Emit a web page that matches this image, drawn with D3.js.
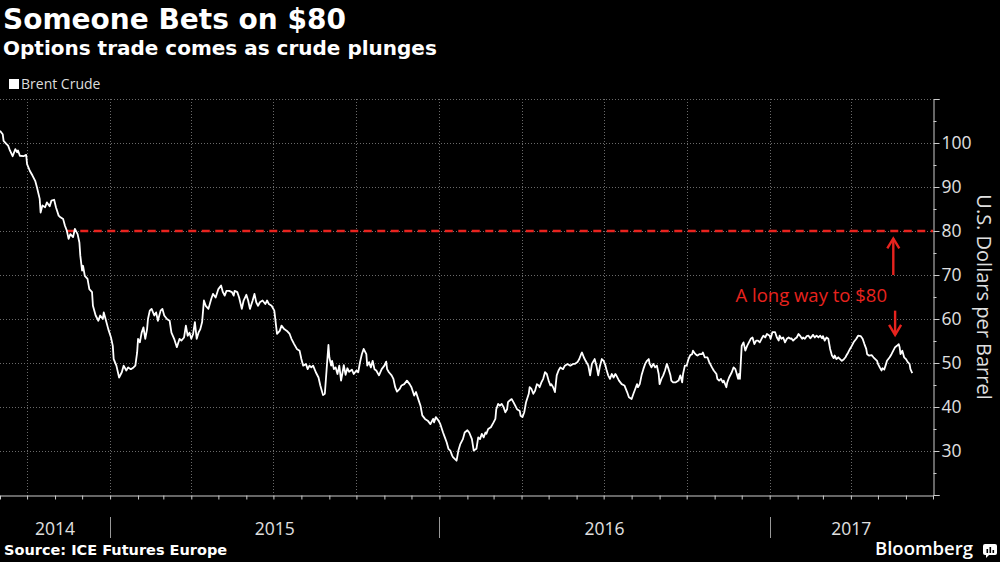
<!DOCTYPE html>
<html><head><meta charset="utf-8">
<script src="https://cdn.jsdelivr.net/npm/d3@7"></script>
<style>
html,body{margin:0;padding:0;background:#000;}
svg{display:block;}
</style></head><body>
<svg id="chart" width="1000" height="562"></svg>
<script>
// ---------- DATA ----------
const titleText = "Someone Bets on $80";
const subtitleText = "Options trade comes as crude plunges";
const legendLabel = "Brent Crude";
const sourceText = "Source: ICE Futures Europe";
const yAxisTitle = "U.S. Dollars per Barrel";
const annotationText = "A long way to $80";
const yearLabels = ["2014", "2015", "2016", "2017"];
const yTickLabels = [30, 40, 50, 60, 70, 80, 90, 100];
const xDomain = ["2014-09-01", "2017-07-01"];
const yDomain = [20, 110];
const targetPrice = 80;
const targetStart = "2014-11-14";
// annotation anchor points [date, value]
const upArrow = [["2017-05-18", 70.0], ["2017-05-18", 78.3]];
const downArrow = [["2017-05-20", 61.9], ["2017-05-20", 56.4]];
const annotationAnchor = ["2017-05-11", 63.9];

// Brent crude, U.S. dollars per barrel
const brentCrude = [
["2014-09-01",102.8],["2014-09-04",102.0],["2014-09-05",100.5],["2014-09-08",99.8],["2014-09-10",99.4],
["2014-09-12",98.3],["2014-09-15",97.0],["2014-09-18",98.6],["2014-09-20",97.9],["2014-09-21",98.3],
["2014-09-23",97.1],["2014-09-27",97.0],["2014-09-30",97.3],["2014-10-01",95.2],["2014-10-04",93.7],
["2014-10-07",92.6],["2014-10-10",91.4],["2014-10-12",89.9],["2014-10-15",87.3],["2014-10-16",84.2],
["2014-10-18",85.8],["2014-10-21",85.4],["2014-10-23",86.5],["2014-10-26",85.6],["2014-10-28",86.9],
["2014-10-31",87.1],["2014-11-02",85.4],["2014-11-05",83.5],["2014-11-07",83.1],["2014-11-10",82.7],
["2014-11-12",81.2],["2014-11-14",80.1],["2014-11-16",78.2],["2014-11-18",79.3],["2014-11-21",78.6],
["2014-11-23",80.5],["2014-11-26",79.3],["2014-11-28",77.4],["2014-11-29",74.4],["2014-12-01",71.0],
["2014-12-02",72.1],["2014-12-04",69.8],["2014-12-07",69.1],["2014-12-09",66.8],["2014-12-12",66.1],
["2014-12-13",63.0],["2014-12-16",60.8],["2014-12-19",59.6],["2014-12-21",60.8],["2014-12-24",60.0],
["2014-12-25",61.5],["2014-12-27",60.0],["2014-12-30",57.7],["2015-01-02",55.8],["2015-01-04",53.9],
["2015-01-05",50.9],["2015-01-08",49.4],["2015-01-11",46.7],["2015-01-14",47.9],["2015-01-16",49.4],
["2015-01-19",48.3],["2015-01-21",49.0],["2015-01-24",48.6],["2015-01-27",49.0],["2015-01-29",49.4],
["2015-01-31",52.4],["2015-02-01",55.5],["2015-02-03",54.7],["2015-02-05",56.9],["2015-02-07",58.1],
["2015-02-09",55.5],["2015-02-11",57.7],["2015-02-12",60.0],["2015-02-14",61.9],["2015-02-16",62.3],
["2015-02-19",60.8],["2015-02-21",61.5],["2015-02-23",59.6],["2015-02-26",61.9],["2015-02-28",62.3],
["2015-03-02",60.8],["2015-03-05",60.0],["2015-03-08",59.6],["2015-03-10",56.9],["2015-03-13",55.5],
["2015-03-16",53.6],["2015-03-19",55.5],["2015-03-21",55.1],["2015-03-24",55.8],["2015-03-26",58.5],
["2015-03-28",56.2],["2015-03-30",56.9],["2015-04-01",55.5],["2015-04-03",56.6],["2015-04-05",59.3],
["2015-04-07",55.5],["2015-04-09",56.9],["2015-04-11",57.7],["2015-04-13",59.3],["2015-04-15",64.2],
["2015-04-17",63.0],["2015-04-20",62.3],["2015-04-23",64.5],["2015-04-25",65.7],["2015-04-28",64.9],
["2015-05-01",66.8],["2015-05-04",67.6],["2015-05-06",66.1],["2015-05-08",65.3],["2015-05-10",66.4],
["2015-05-13",66.4],["2015-05-16",66.1],["2015-05-18",65.3],["2015-05-19",66.4],["2015-05-22",66.1],
["2015-05-24",64.9],["2015-05-27",62.3],["2015-05-29",64.2],["2015-06-01",65.5],["2015-06-03",64.2],
["2015-06-05",62.3],["2015-06-08",64.2],["2015-06-10",65.7],["2015-06-12",63.8],["2015-06-14",63.0],
["2015-06-16",63.8],["2015-06-19",64.2],["2015-06-22",63.4],["2015-06-24",64.2],["2015-06-26",63.4],
["2015-06-29",63.0],["2015-07-02",61.9],["2015-07-05",56.6],["2015-07-08",57.3],["2015-07-10",58.5],
["2015-07-13",57.7],["2015-07-16",57.3],["2015-07-19",56.6],["2015-07-21",55.5],["2015-07-24",54.3],
["2015-07-27",53.2],["2015-07-30",52.8],["2015-08-01",50.9],["2015-08-03",49.4],["2015-08-06",49.8],
["2015-08-08",48.6],["2015-08-10",49.4],["2015-08-12",49.0],["2015-08-14",49.4],["2015-08-17",47.9],
["2015-08-20",46.7],["2015-08-22",44.9],["2015-08-25",42.7],["2015-08-27",43.0],["2015-08-29",48.6],
["2015-08-31",54.1],["2015-09-01",51.3],["2015-09-03",49.4],["2015-09-04",50.5],["2015-09-06",48.6],
["2015-09-08",49.0],["2015-09-10",47.5],["2015-09-12",49.4],["2015-09-14",46.0],["2015-09-16",48.3],
["2015-09-17",49.5],["2015-09-19",47.3],["2015-09-21",48.8],["2015-09-23",48.0],["2015-09-26",48.5],
["2015-09-28",47.5],["2015-10-01",48.3],["2015-10-03",47.9],["2015-10-05",50.2],["2015-10-07",52.0],
["2015-10-09",53.2],["2015-10-12",52.0],["2015-10-13",49.4],["2015-10-15",50.2],["2015-10-17",49.0],
["2015-10-19",50.5],["2015-10-21",48.6],["2015-10-23",48.3],["2015-10-26",47.2],["2015-10-29",48.6],
["2015-11-01",49.4],["2015-11-03",50.3],["2015-11-04",48.6],["2015-11-06",47.9],["2015-11-09",47.2],
["2015-11-11",46.4],["2015-11-13",44.5],["2015-11-15",43.5],["2015-11-18",44.1],["2015-11-20",44.9],
["2015-11-23",45.2],["2015-11-26",46.0],["2015-11-29",45.2],["2015-12-01",44.5],["2015-12-04",42.6],
["2015-12-06",43.4],["2015-12-09",41.5],["2015-12-11",40.3],["2015-12-13",38.1],["2015-12-16",37.3],
["2015-12-19",36.9],["2015-12-22",36.1],["2015-12-25",37.3],["2015-12-26",36.5],["2015-12-28",37.7],
["2015-12-31",36.9],["2016-01-02",36.1],["2016-01-05",34.2],["2016-01-07",33.1],["2016-01-09",32.0],
["2016-01-11",30.5],["2016-01-13",30.1],["2016-01-15",29.0],["2016-01-16",28.6],["2016-01-18",28.2],
["2016-01-20",27.8],["2016-01-22",30.1],["2016-01-24",31.5],["2016-01-27",32.7],["2016-01-29",34.2],
["2016-02-01",34.7],["2016-02-03",34.2],["2016-02-06",32.7],["2016-02-08",30.1],["2016-02-11",30.5],
["2016-02-13",33.1],["2016-02-15",32.7],["2016-02-17",33.9],["2016-02-19",33.1],["2016-02-21",34.2],
["2016-02-22",33.9],["2016-02-24",35.0],["2016-02-27",35.4],["2016-03-01",36.5],["2016-03-03",37.3],
["2016-03-04",39.5],["2016-03-06",40.7],["2016-03-08",40.3],["2016-03-10",40.7],["2016-03-12",40.0],
["2016-03-14",38.8],["2016-03-16",39.5],["2016-03-17",41.1],["2016-03-19",41.5],["2016-03-21",41.8],
["2016-03-23",41.1],["2016-03-25",40.3],["2016-03-27",39.5],["2016-03-30",39.1],["2016-03-31",38.0],
["2016-04-02",37.7],["2016-04-04",38.8],["2016-04-06",41.1],["2016-04-09",43.0],["2016-04-10",44.5],
["2016-04-12",44.1],["2016-04-14",43.0],["2016-04-16",43.7],["2016-04-18",45.2],["2016-04-20",44.9],
["2016-04-21",44.5],["2016-04-23",45.6],["2016-04-25",46.4],["2016-04-27",47.9],["2016-04-29",47.5],
["2016-05-01",46.0],["2016-05-03",44.9],["2016-05-04",45.2],["2016-05-06",44.5],["2016-05-08",43.4],
["2016-05-10",47.2],["2016-05-12",48.3],["2016-05-14",49.0],["2016-05-17",48.6],["2016-05-19",49.4],
["2016-05-22",49.8],["2016-05-25",49.4],["2016-05-28",49.8],["2016-05-30",49.8],["2016-06-02",50.2],
["2016-06-04",50.9],["2016-06-06",52.0],["2016-06-07",52.4],["2016-06-09",51.3],["2016-06-11",50.5],
["2016-06-14",49.4],["2016-06-16",47.2],["2016-06-18",49.8],["2016-06-20",50.5],["2016-06-21",50.9],
["2016-06-23",49.4],["2016-06-25",47.2],["2016-06-27",49.4],["2016-06-29",50.9],["2016-07-01",50.5],
["2016-07-03",49.4],["2016-07-04",48.6],["2016-07-06",47.2],["2016-07-08",46.4],["2016-07-10",47.5],
["2016-07-12",46.7],["2016-07-14",47.5],["2016-07-15",47.2],["2016-07-18",46.0],["2016-07-21",45.2],
["2016-07-24",44.9],["2016-07-27",43.4],["2016-07-29",42.2],["2016-08-01",41.8],["2016-08-03",43.0],
["2016-08-05",44.1],["2016-08-07",45.2],["2016-08-08",44.5],["2016-08-10",45.2],["2016-08-12",47.2],
["2016-08-14",48.6],["2016-08-16",49.8],["2016-08-18",50.5],["2016-08-20",50.9],["2016-08-21",49.8],
["2016-08-23",49.0],["2016-08-25",49.8],["2016-08-27",49.0],["2016-08-29",49.4],["2016-08-31",47.5],
["2016-09-01",45.2],["2016-09-03",46.4],["2016-09-05",47.2],["2016-09-07",48.3],["2016-09-09",49.8],
["2016-09-11",48.6],["2016-09-13",47.2],["2016-09-14",46.0],["2016-09-16",45.6],["2016-09-19",45.6],
["2016-09-22",46.0],["2016-09-24",47.2],["2016-09-26",45.6],["2016-09-27",47.5],["2016-09-29",49.4],
["2016-10-01",49.4],["2016-10-03",50.9],["2016-10-05",51.8],["2016-10-07",52.0],["2016-10-08",52.8],
["2016-10-10",52.2],["2016-10-12",51.8],["2016-10-13",51.7],["2016-10-15",52.0],["2016-10-18",52.0],
["2016-10-19",52.4],["2016-10-21",51.3],["2016-10-24",51.3],["2016-10-26",50.2],["2016-10-29",49.0],
["2016-10-31",48.3],["2016-11-03",47.5],["2016-11-04",46.4],["2016-11-06",46.0],["2016-11-08",46.4],
["2016-11-10",45.6],["2016-11-11",46.0],["2016-11-14",44.5],["2016-11-15",45.6],["2016-11-17",46.7],
["2016-11-20",47.9],["2016-11-22",49.0],["2016-11-24",48.6],["2016-11-25",47.9],["2016-11-27",46.4],
["2016-11-28",47.5],["2016-11-29",46.4],["2016-12-01",53.9],["2016-12-03",54.7],["2016-12-05",52.8],
["2016-12-07",53.9],["2016-12-09",54.7],["2016-12-11",55.5],["2016-12-13",55.8],["2016-12-15",54.3],
["2016-12-17",55.1],["2016-12-19",55.1],["2016-12-21",54.7],["2016-12-23",55.5],["2016-12-25",56.2],
["2016-12-27",55.8],["2016-12-29",56.6],["2017-01-01",56.2],["2017-01-02",55.5],["2017-01-04",57.0],
["2017-01-07",57.0],["2017-01-09",55.8],["2017-01-11",55.1],["2017-01-12",56.2],["2017-01-14",55.5],
["2017-01-16",55.8],["2017-01-18",54.7],["2017-01-20",55.5],["2017-01-22",55.8],["2017-01-24",55.5],
["2017-01-25",55.6],["2017-01-27",55.1],["2017-01-29",55.5],["2017-01-31",55.8],["2017-02-02",56.6],
["2017-02-04",56.1],["2017-02-06",55.5],["2017-02-07",55.8],["2017-02-09",55.5],["2017-02-11",56.1],
["2017-02-13",56.2],["2017-02-15",55.6],["2017-02-17",56.1],["2017-02-18",56.4],["2017-02-20",55.8],
["2017-02-22",56.2],["2017-02-24",55.8],["2017-02-26",56.2],["2017-02-28",55.6],["2017-03-01",56.1],
["2017-03-03",55.1],["2017-03-05",55.8],["2017-03-07",55.5],["2017-03-09",53.2],["2017-03-11",51.7],
["2017-03-13",51.1],["2017-03-14",51.7],["2017-03-16",50.9],["2017-03-18",51.3],["2017-03-20",50.9],
["2017-03-22",50.5],["2017-03-24",50.8],["2017-03-26",51.3],["2017-03-27",51.7],["2017-03-29",52.4],
["2017-03-31",53.2],["2017-04-02",53.9],["2017-04-04",54.7],["2017-04-07",55.5],["2017-04-09",56.2],
["2017-04-12",56.1],["2017-04-14",55.5],["2017-04-16",54.3],["2017-04-18",53.2],["2017-04-19",52.0],
["2017-04-21",51.7],["2017-04-24",51.8],["2017-04-26",51.3],["2017-04-28",50.9],["2017-04-30",50.5],
["2017-05-01",49.8],["2017-05-03",49.0],["2017-05-05",48.3],["2017-05-06",48.8],["2017-05-08",48.5],
["2017-05-10",49.8],["2017-05-11",50.5],["2017-05-14",51.3],["2017-05-16",52.0],["2017-05-18",52.8],
["2017-05-20",53.6],["2017-05-22",53.9],["2017-05-24",54.3],["2017-05-25",53.6],["2017-05-26",52.0],
["2017-05-28",52.8],["2017-05-30",51.3],["2017-06-01",50.9],["2017-06-03",50.2],["2017-06-05",49.8],
["2017-06-06",48.6],["2017-06-08",47.7]
];

// ---------- CHART ----------
const W = 1000, H = 562;
const plotRight = 933, plotTop = 99, plotBottom = 495;
const sans = "'Open Sans', 'DejaVu Sans', sans-serif";
const bold = "'DejaVu Sans', Verdana, sans-serif";
const red = "#e8231e";
const parse = d3.utcParse("%Y-%m-%d");
const data = brentCrude.map(([d, v]) => ({date: parse(d), value: v}));

const x = d3.scaleUtc().domain(xDomain.map(parse)).range([0, plotRight]);
const y = d3.scaleLinear().domain(yDomain).range([plotBottom, plotTop]);

const svg = d3.select("#chart");
svg.append("rect").attr("width", W).attr("height", H).attr("fill", "#000");

// grid
const grid = svg.append("g");
grid.selectAll("line.h").data(d3.range(30, 111, 10)).join("line")
  .attr("class", "h")
  .attr("x1", 0).attr("x2", plotRight)
  .attr("y1", d => Math.round(y(d)) + 0.5).attr("y2", d => Math.round(y(d)) + 0.5)
  .attr("stroke", "#6a6a6a").attr("stroke-dasharray", "1,2");
grid.selectAll("line.v").data(x.ticks(d3.utcMonth.every(3)).filter(d => x(d) > 1 && x(d) < plotRight - 1)).join("line")
  .attr("class", "v")
  .attr("x1", d => Math.round(x(d)) + 0.5).attr("x2", d => Math.round(x(d)) + 0.5)
  .attr("y1", plotTop).attr("y2", plotBottom)
  .attr("stroke", "#6a6a6a").attr("stroke-dasharray", "1,2");

// target line
svg.append("line")
  .attr("x1", x(parse(targetStart))).attr("x2", plotRight)
  .attr("y1", y(targetPrice)).attr("y2", y(targetPrice))
  .attr("stroke", red).attr("stroke-width", 2.6).attr("stroke-dasharray", "8,5.5");

// price line
const line = d3.line().x(d => x(d.date)).y(d => y(d.value));
svg.append("path").datum(data)
  .attr("d", line).attr("fill", "none")
  .attr("stroke", "#fff").attr("stroke-width", 1.8)
  .attr("stroke-linejoin", "round");

// y axis
const yAxis = d3.axisRight(y)
  .tickValues(d3.range(20, 111, 5))
  .tickSize(6).tickSizeOuter(6).tickPadding(2)
  .tickFormat(d => yTickLabels.includes(d) ? d : "");
const gy = svg.append("g").attr("transform", `translate(${plotRight + 0.5},0)`).call(yAxis);
gy.select(".domain").attr("stroke", "#ccc");
gy.selectAll(".tick line").attr("stroke", "#ccc").attr("x2", d => d % 10 === 0 ? 6 : 3);
gy.selectAll(".tick text").attr("fill", "#e0e0e0").attr("font-family", sans).attr("font-size", 17.5);

// y axis title
svg.append("text")
  .attr("transform", `translate(977,${(y(100) + y(30)) / 2}) rotate(90)`)
  .attr("text-anchor", "middle")
  .attr("fill", "#e0e0e0").attr("font-family", sans).attr("font-size", 20)
  .text(yAxisTitle);

// x axis
const xAxis = d3.axisBottom(x).ticks(d3.utcMonth.every(1))
  .tickSize(4).tickSizeOuter(0).tickFormat("");
const gx = svg.append("g").attr("transform", `translate(0,${plotBottom + 0.5})`).call(xAxis);
gx.select(".domain").attr("stroke", "#ccc");
gx.selectAll(".tick line").attr("stroke", "#ccc");

// year separators and labels
const yearStarts = yearLabels.map(yr => parse(yr + "-01-01"));
svg.selectAll("line.sep").data(yearStarts.filter(d => x(d) > 0)).join("line")
  .attr("class", "sep")
  .attr("x1", d => Math.round(x(d)) + 0.5).attr("x2", d => Math.round(x(d)) + 0.5)
  .attr("y1", 517).attr("y2", 538)
  .attr("stroke", "#999");
const [d0, d1] = x.domain();
svg.selectAll("text.year").data(yearLabels).join("text")
  .attr("class", "year")
  .attr("x", yr => {
    const a = new Date(Math.max(d0, parse(yr + "-01-01")));
    const b = new Date(Math.min(d1, parse((+yr + 1) + "-01-01")));
    return (x(a) + x(b)) / 2;
  })
  .attr("y", 535)
  .attr("text-anchor", "middle")
  .attr("fill", "#e0e0e0").attr("font-family", sans).attr("font-size", 17.5)
  .text(d => d);

// annotation arrows
function arrow(pts) {
  const [p0, p1] = pts.map(([d, v]) => [x(parse(d)), y(v)]);
  const g = svg.append("g").attr("stroke", red).attr("stroke-width", 2.4).attr("fill", "none");
  g.append("line").attr("x1", p0[0]).attr("y1", p0[1]).attr("x2", p1[0]).attr("y2", p1[1]);
  const dir = Math.sign(p1[1] - p0[1]);
  g.append("path").attr("d", `M${p1[0] - 6},${p1[1] - dir * 10}L${p1[0]},${p1[1]}L${p1[0] + 6},${p1[1] - dir * 10}`);
}
arrow(upArrow);
arrow(downArrow);
svg.append("text")
  .attr("x", x(parse(annotationAnchor[0]))).attr("y", y(annotationAnchor[1]))
  .attr("text-anchor", "end")
  .attr("fill", red).attr("font-family", sans).attr("font-size", 18.5)
  .text(annotationText);

// titles
svg.append("text").attr("x", 3).attr("y", 29)
  .attr("fill", "#fff").attr("font-family", bold).attr("font-weight", "bold").attr("font-size", 28)
  .text(titleText);
svg.append("text").attr("x", 3).attr("y", 55)
  .attr("fill", "#fff").attr("font-family", bold).attr("font-weight", "bold").attr("font-size", 20)
  .text(subtitleText);

// legend
svg.append("rect").attr("x", 9).attr("y", 79).attr("width", 10).attr("height", 10).attr("fill", "#fff");
svg.append("text").attr("x", 21).attr("y", 89)
  .attr("fill", "#ddd").attr("font-family", sans).attr("font-size", 14)
  .text(legendLabel);

// footer
svg.append("text").attr("x", 4).attr("y", 555)
  .attr("fill", "#fff").attr("font-family", bold).attr("font-weight", "bold").attr("font-size", 14.5)
  .text(sourceText);
svg.append("text").attr("x", 973).attr("y", 555).attr("text-anchor", "end")
  .attr("fill", "#fff").attr("font-family", sans).attr("font-weight", 600).attr("font-size", 18.5)
  .text("Bloomberg");
const logo = svg.append("g").attr("transform", "translate(983,544)");
logo.append("rect").attr("width", 14).attr("height", 11).attr("rx", 2).attr("fill", "#fff");
logo.append("path").attr("d", "M3,11L3,14L6,11Z").attr("fill", "#fff");
[[3.5, 5], [6.5, 3], [9.5, 6]].forEach(([bx, by]) =>
  logo.append("rect").attr("x", bx).attr("y", by).attr("width", 1.6).attr("height", 9 - by).attr("fill", "#000"));
</script>
</body></html>
